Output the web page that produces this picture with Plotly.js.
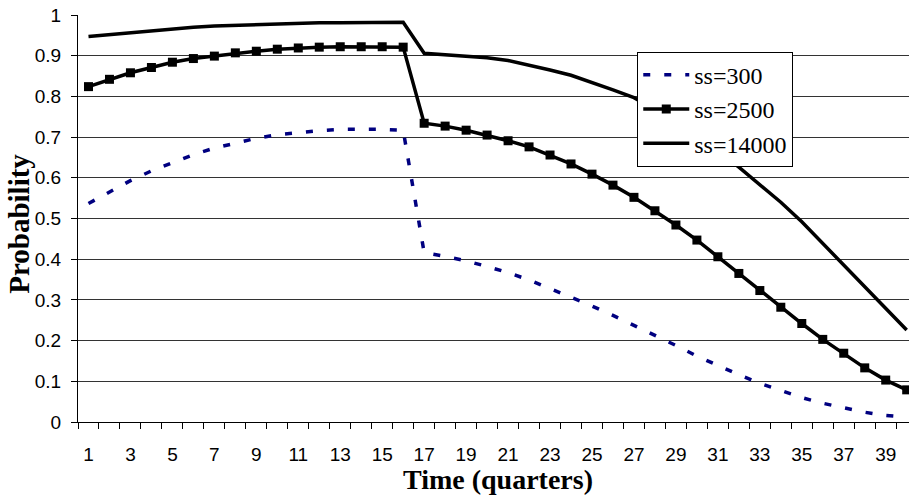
<!DOCTYPE html>
<html>
<head>
<meta charset="utf-8">
<script src="https://cdn.plot.ly/plotly-3.0.1.min.js"></script>
<style>html,body{margin:0;padding:0;background:#fff;}#chart{width:909px;height:500px;}</style>
</head>
<body>
<div id="chart"></div>
<script>
const quarters = [1,2,3,4,5,6,7,8,9,10,11,12,13,14,15,16,17,18,19,20,21,22,23,24,25,26,27,28,29,30,31,32,33,34,35,36,37,38,39,40];
const tickLabels = ["1","3","5","7","9","11","13","15","17","19","21","23","25","27","29","31","33","35","37","39"];
const tickPositions = [1,3,5,7,9,11,13,15,17,19,21,23,25,27,29,31,33,35,37,39];
const boundaryTicks = [0.5,1.5,2.5,3.5,4.5,5.5,6.5,7.5,8.5,9.5,10.5,11.5,12.5,13.5,14.5,15.5,16.5,17.5,18.5,19.5,20.5,21.5,22.5,23.5,24.5,25.5,26.5,27.5,28.5,29.5,30.5,31.5,32.5,33.5,34.5,35.5,36.5,37.5,38.5,39.5,40.5];
const yTickVals = [0,0.1,0.2,0.3,0.4,0.5,0.6,0.7,0.8,0.9,1];
const yTickText = ["0","0.1","0.2","0.3","0.4","0.5","0.6","0.7","0.8","0.9","1"];

const ss300 = [0.537,0.566,0.593,0.617,0.638,0.657,0.673,0.686,0.697,0.706,0.712,0.716,0.719,0.720,0.719,0.717,0.416,0.407,0.396,0.382,0.367,0.349,0.328,0.308,0.285,0.262,0.238,0.214,0.188,0.162,0.138,0.116,0.095,0.077,0.060,0.046,0.034,0.024,0.016,0.012];
const ss2500 = [0.824,0.842,0.858,0.871,0.884,0.893,0.899,0.907,0.911,0.916,0.919,0.921,0.922,0.922,0.922,0.921,0.734,0.727,0.717,0.705,0.691,0.676,0.656,0.634,0.609,0.582,0.552,0.519,0.484,0.447,0.406,0.365,0.323,0.282,0.242,0.203,0.169,0.133,0.103,0.079];
const ss14000 = [0.947,0.952,0.957,0.962,0.966,0.970,0.973,0.975,0.977,0.979,0.980,0.981,0.981,0.982,0.982,0.982,0.906,0.902,0.898,0.895,0.888,0.877,0.865,0.852,0.835,0.816,0.797,0.768,0.736,0.702,0.666,0.626,0.583,0.540,0.492,0.439,0.385,0.331,0.278,0.226];
const seriesNames = ["ss=300","ss=2500","ss=14000"];

const serif = "'Liberation Serif', 'Times New Roman', serif";
const sans = "'Liberation Sans', Arial, sans-serif";
const xRange = [0.5, 40.11];

const traces = [
  {x: quarters, y: ss300, name: seriesNames[0], type: 'scatter', mode: 'lines', legendgroup: 'a',
   line: {color: '#000080', width: 3.5, dash: '7px,14px'}, cliponaxis: false},
  {x: quarters, y: ss2500, name: seriesNames[1], type: 'scatter', mode: 'lines+markers', legendgroup: 'b',
   line: {color: '#000000', width: 3.5}, marker: {symbol: 'square', size: 9, color: '#000000'}, cliponaxis: false},
  {x: quarters, y: ss14000, name: seriesNames[2], type: 'scatter', mode: 'lines', legendgroup: 'c',
   line: {color: '#000000', width: 3.5}, cliponaxis: false},
  {x: [], y: [], xaxis: 'x2', showlegend: false, hoverinfo: 'skip'}
];

const layout = {
  width: 909, height: 500,
  margin: {l: 78, r: 0, t: 15, b: 78, pad: 0},
  paper_bgcolor: '#ffffff', plot_bgcolor: '#ffffff',
  font: {family: serif, size: 24, color: '#000'},
  showlegend: true,
  hovermode: false,
  xaxis: {
    range: xRange, tickmode: 'array', tickvals: tickPositions, ticktext: tickLabels,
    ticks: '', showgrid: false, zeroline: false, showline: true, linecolor: '#000', linewidth: 1,
    tickfont: {family: sans, size: 19, color: '#000'}, ticklabelstandoff: 15
  },
  xaxis2: {
    overlaying: 'x', side: 'bottom', range: xRange, tickmode: 'array', tickvals: boundaryTicks,
    showticklabels: false, ticks: 'outside', ticklen: 6, tickcolor: '#000', tickwidth: 1,
    showgrid: false, zeroline: false, showline: false
  },
  yaxis: {
    range: [0, 1], tickmode: 'array', tickvals: yTickVals, ticktext: yTickText,
    ticks: 'outside', ticklen: 6, tickcolor: '#000',
    showgrid: true, gridcolor: '#333333', gridwidth: 1, zeroline: false,
    showline: true, linecolor: '#000', linewidth: 1,
    tickfont: {family: sans, size: 19, color: '#000'}, ticklabelstandoff: 6
  },
  legend: {
    x: 0.673, y: 0.910, xanchor: 'left', yanchor: 'top',
    bgcolor: '#ffffff', bordercolor: '#000', borderwidth: 1,
    font: {family: serif, size: 24, color: '#000'},
    tracegroupgap: 0, traceorder: 'normal', itemwidth: 46
  },
  annotations: [
    {text: '<b>Time (quarters)</b>', xref: 'x', yref: 'paper', x: 20.5, y: -0.1425,
     xanchor: 'center', yanchor: 'middle', showarrow: false,
     font: {family: serif, size: 28, color: '#000'}},
    {text: '<b>Probability</b>', xref: 'paper', yref: 'paper', x: -0.071, y: 0.487,
     xanchor: 'center', yanchor: 'middle', showarrow: false, textangle: -90,
     font: {family: serif, size: 29, color: '#000'}}
  ]
};

Plotly.newPlot('chart', traces, layout, {displayModeBar: false, staticPlot: true});
</script>
</body>
</html>
